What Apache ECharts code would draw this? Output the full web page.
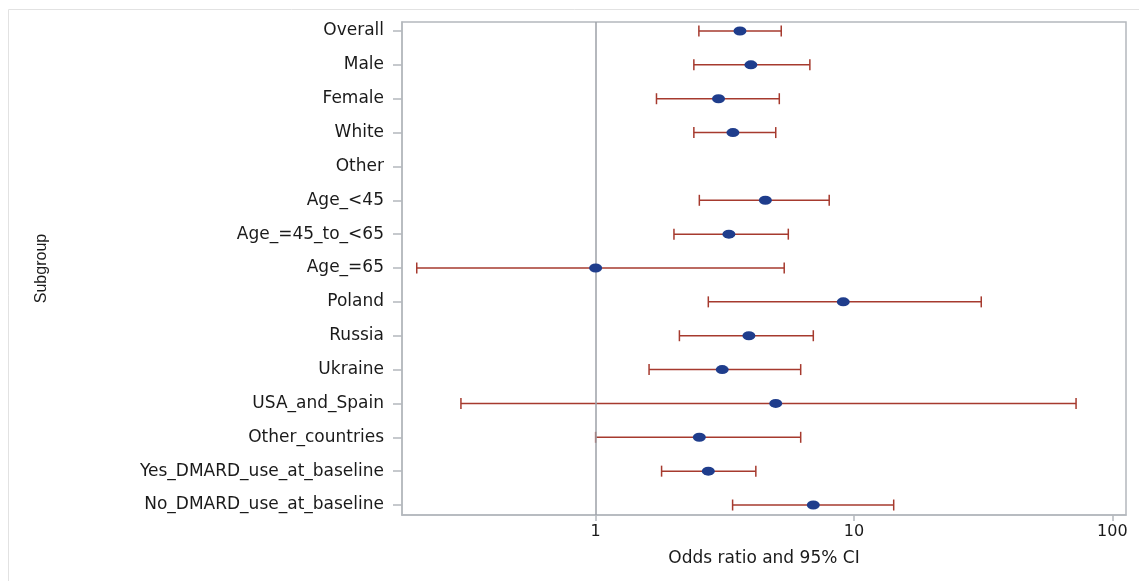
<!DOCTYPE html>
<html>
<head>
<meta charset="utf-8">
<script src="https://cdn.jsdelivr.net/npm/echarts@6/dist/echarts.min.js"></script>
<style>html,body{margin:0;padding:0;background:#fff;}#c{width:1139px;height:581px;}</style>
</head>
<body>
<div id="c"></div>
<script>
const categories = ['Overall','Male','Female','White','Other','Age_<45','Age_=45_to_<65','Age_=65','Poland','Russia','Ukraine','USA_and_Spain','Other_countries','Yes_DMARD_use_at_baseline','No_DMARD_use_at_baseline'];
const oddsRatio = [3.62, 3.99, 2.99, 3.40, null, 4.54, 3.28, 1.00, 9.09, 3.92, 3.09, 4.98, 2.52, 2.73, 6.96];
const lowerCI   = [2.51, 2.40, 1.72, 2.40, null, 2.52, 2.01, 0.203, 2.73, 2.11, 1.61, 0.301, 1.00, 1.80, 3.39];
const upperCI   = [5.23, 6.75, 5.14, 4.98, null, 8.02, 5.57, 5.37, 31.1, 6.96, 6.22, 72.4, 6.22, 4.17, 14.25];
const xTickValues = [1, 10, 100];
const xMin = 0.178, xMax = 113;

const rowIdx = categories.map((c, i) => i);
const pointData = [], barData = [];
categories.forEach((c, i) => {
  if (oddsRatio[i] != null) pointData.push([oddsRatio[i], i]);
  if (lowerCI[i] != null) barData.push([lowerCI[i], upperCI[i], i]);
});

const chart = echarts.init(document.getElementById('c'), null, {renderer: 'canvas'});
const ERR = '#a63a2e', PT = '#1f3d8c', GRAYBOX = '#b4b8bd';
chart.setOption({
  backgroundColor: '#fff',
  animation: false,
  graphic: [{
    type: 'rect', shape: {x: 8.5, y: 9.5, width: 1300, height: 700},
    style: {fill: 'none', stroke: '#e2e2e2', lineWidth: 1}, silent: true, z: 0
  }],
  grid: {left: 402, right: 13, top: 22, bottom: 66, show: true, borderColor: GRAYBOX, borderWidth: 1.5, backgroundColor: 'transparent'},
  xAxis: {
    type: 'log', logBase: 10, min: xMin, max: xMax,
    name: 'Odds ratio and 95% CI', nameLocation: 'middle', nameGap: 35,
    nameTextStyle: {fontFamily: 'DejaVu Sans', fontSize: 17, color: '#1a1a1a'},
    axisLine: {show: true, onZero: false, lineStyle: {color: GRAYBOX, width: 1.5}},
    axisTick: {show: true, length: 6, customValues: xTickValues, lineStyle: {color: GRAYBOX, width: 1.5}},
    axisLabel: {customValues: xTickValues, margin: 9, fontFamily: 'DejaVu Sans', fontSize: 16, color: '#1a1a1a', formatter: v => String(v)},
    splitLine: {show: false}, minorTick: {show: false}, minorSplitLine: {show: false}
  },
  yAxis: {
    type: 'value', inverse: true, min: -0.266, max: 14.295,
    name: 'Subgroup', nameLocation: 'middle', nameGap: 352, nameRotate: 90,
    nameTextStyle: {fontFamily: 'Liberation Sans', fontSize: 16, color: '#1a1a1a'},
    axisLine: {show: true, onZero: false, lineStyle: {color: GRAYBOX, width: 1.5}},
    axisTick: {show: true, length: 9, customValues: rowIdx, lineStyle: {color: GRAYBOX, width: 1.5}},
    axisLabel: {customValues: rowIdx, margin: 18, fontFamily: 'DejaVu Sans', fontSize: 17, color: '#1a1a1a', formatter: v => categories[Math.round(v)]},
    splitLine: {show: false}
  },
  series: [
    {
      type: 'custom', z: 1,
      data: barData,
      encode: {x: [0, 1], y: 2},
      renderItem: function (params, api) {
        const y = api.value(2);
        const p1 = api.coord([api.value(0), y]);
        const p2 = api.coord([api.value(1), y]);
        const h = 5.5;
        const st = {stroke: ERR, lineWidth: 1.5};
        return {type: 'group', children: [
          {type: 'line', shape: {x1: p1[0], y1: p1[1], x2: p2[0], y2: p2[1]}, style: st},
          {type: 'line', shape: {x1: p1[0], y1: p1[1] - h, x2: p1[0], y2: p1[1] + h}, style: st},
          {type: 'line', shape: {x1: p2[0], y1: p2[1] - h, x2: p2[0], y2: p2[1] + h}, style: st}
        ]};
      }
    },
    {
      type: 'scatter', z: 3,
      data: pointData,
      symbol: 'circle', symbolSize: [13, 9],
      itemStyle: {color: PT, opacity: 1},
      markLine: {
        silent: true, symbol: 'none', z: 2,
        label: {show: false},
        lineStyle: {color: '#9ca1a7', width: 1.5, type: 'solid', opacity: 1},
        data: [{xAxis: 1}]
      }
    }
  ]
});
</script>
</body>
</html>
